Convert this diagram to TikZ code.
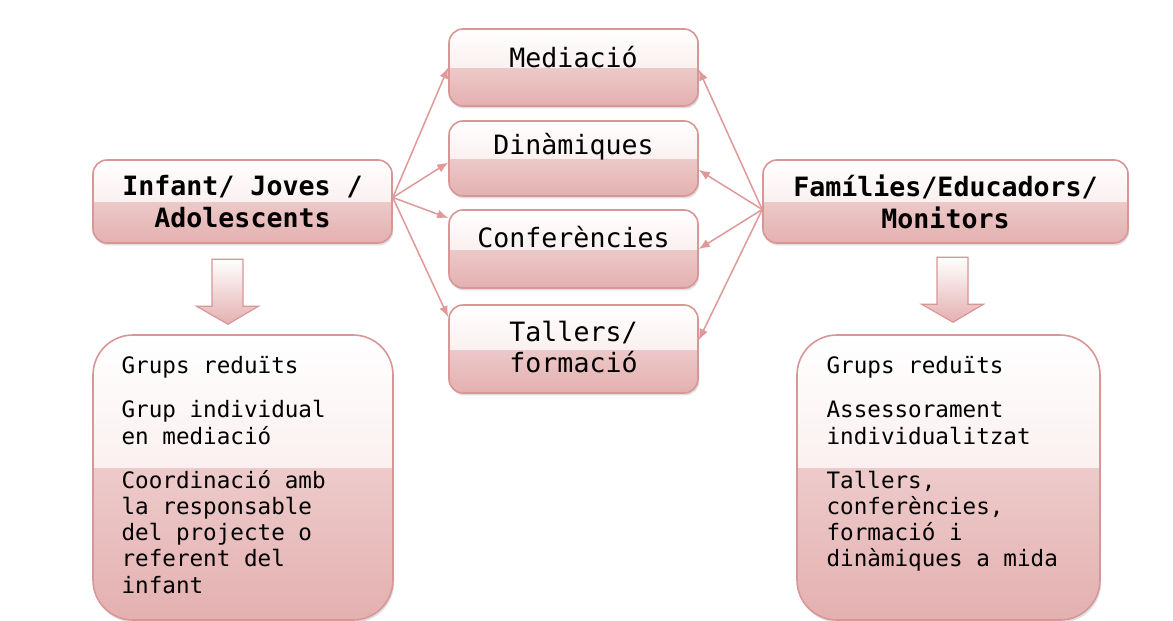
\documentclass[tikz,border=0pt]{standalone}
\usepackage{fontspec}
\newfontfamily\boxfont{DejaVu Sans Mono}
\usetikzlibrary{arrows.meta,shadows}
\definecolor{rosaline}{RGB}{216,150,150}
\definecolor{rosadark}{RGB}{228,176,176}
\definecolor{rosalight}{RGB}{246,226,226}
\definecolor{rosapale}{RGB}{251,240,240}
\definecolor{rosaarrow}{RGB}{224,152,152}
\tikzset{
	glass/.style = {draw=rosaline, line width=0.8pt, rounded corners=7pt, fill=white,
		drop shadow={shadow xshift=0.6pt, shadow yshift=-1.2pt, opacity=0.25},
		path picture={
			\fill[sharp corners, top color=rosalight, bottom color=rosadark] ([yshift=#1]path picture bounding box.west) rectangle (path picture bounding box.south east);
			\fill[sharp corners, top color=white, bottom color=rosapale] (path picture bounding box.north west) rectangle ([yshift=#1]path picture bounding box.east);
		}},
	glass/.default = 0pt,
	headbox/.style = {glass, minimum height=41.5pt, align=center, font=\boxfont\bfseries\fontsize{13.3}{16}\selectfont},
	midbox/.style = {glass, minimum width=124.5pt},
	midtext/.style = {anchor=north, inner sep=0pt, align=center, font=\boxfont\fontsize{13.3}{15.5}\selectfont},
	listbox/.style = {glass=5pt, rounded corners=20pt, minimum height=142.5pt},
	listtext/.style = {anchor=north west, inner sep=0pt, align=left, font=\boxfont\fontsize{11.3}{13.1}\selectfont},
	link/.style = {draw=rosaarrow, line width=0.75pt, -{Latex[length=5.5pt,width=4.5pt]}},
	bigarrow/.style = {draw=rosaline, line width=0.6pt, top color=white, bottom color=rosadark}
}
\begin{document}
\begin{tikzpicture}[x=0.5pt, y=-0.5pt]
	\fill[white] (0,0) rectangle (1173,621);
	\useasboundingbox (0,0) rectangle (1173,621);
	% the two groups
	\node[headbox, minimum width=149.5pt] (kids) at (242.5,201.5) {Infant/ Joves /\\Adolescents};
	\node[headbox, minimum width=182.5pt] (fams) at (945.5,201.5) {Famílies/Educadors/\\Monitors};
	% activities in the middle
	\node[midbox, minimum height=38.5pt] (med) at (573.5,67.5) {};
	\node[midbox, minimum height=37.5pt] (din) at (573.5,158.5) {};
	\node[midbox, minimum height=39pt] (conf) at (573.5,249) {};
	\node[midbox, minimum height=44pt] (tall) at (573.5,349) {};
	\node[midtext] (medtxt) at ([yshift=-9pt]med.north) {Mediació};
	\node[midtext] (dintxt) at ([yshift=-6.5pt]din.north) {Dinàmiques};
	\node[midtext] (conftxt) at ([yshift=-8.5pt]conf.north) {Conferències};
	\node[midtext] (talltxt) at ([yshift=-8.5pt]tall.north) {Tallers/\\formació};
	\foreach \target/\dy in {med/0pt, din/-2pt, conf/15.5pt, tall/16pt}
		\draw[link] ([yshift=2pt]kids.east) -- ([yshift=\dy]\target.west);
	\foreach \target/\dy in {med/-1pt, din/-5.75pt, conf/0pt, tall/4.5pt}
		\draw[link] ([yshift=-4pt]fams.west) -- ([yshift=\dy]\target.east);
	% lists below
	\node[listbox, minimum width=150pt] (kidslist) at (243,477.5) {};
	\node[listbox, minimum width=151.5pt] (famslist) at (948.5,477.5) {};
	\node[listtext] (kidsnote) at ([xshift=14.5pt,yshift=-11pt]kidslist.north west) {Grups reduïts\\[9pt]Grup individual\\en mediació\\[9pt]Coordinació amb\\la responsable\\del projecte o\\referent del\\infant};
	\node[listtext] (famsnote) at ([xshift=15pt,yshift=-11pt]famslist.north west) {Grups reduïts\\[9pt]Assessorament\\individualitzat\\[9pt]Tallers,\\conferències,\\formació i\\dinàmiques a mida};
	\coordinate (kidstip) at ([xshift=-7.5pt,yshift=5pt]kidslist.north);
	\coordinate (famstip) at ([xshift=2.25pt,yshift=6pt]famslist.north);
	\foreach \tip in {kidstip,famstip}
		\draw[bigarrow] (\tip) -- ++(-31.5,-18) -- ++(15.5,0) -- ++(0,-47) -- ++(31,0) -- ++(0,47) -- ++(15.5,0) -- cycle;
\end{tikzpicture}
\end{document}
